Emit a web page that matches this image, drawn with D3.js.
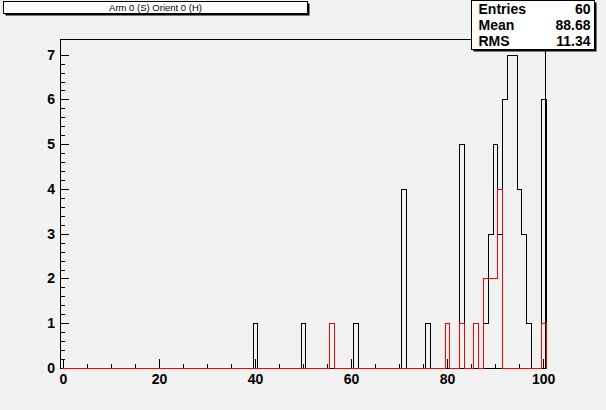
<!DOCTYPE html>
<html>
<head>
<meta charset="utf-8">
<script src="https://cdn.jsdelivr.net/npm/d3@7"></script>
<style>
  html, body { margin: 0; padding: 0; background: #f2f2f2; }
  svg { display: block; }
  text { font-family: "Liberation Sans", Arial, Helvetica, sans-serif; }
</style>
</head>
<body>
<svg id="chart" width="606" height="410"></svg>
<script>
// ---- data (bin centre -> count), 101 bins of width 1 centred on 0..100 ----
const titleText = "Arm 0 (S) Orient 0 (H)";
const blackBins   = [40, 50, 61, 71, 76, 83, 88, 89, 90, 91, 92, 93, 94, 95, 96, 97, 100];
const blackCounts = [ 1,  1,  1,  4,  1,  5,  1,  3,  5,  3,  6,  7,  7,  4,  3,  1,   6];
const redBins     = [56, 80, 83, 86, 88, 89, 90, 91, 100];
const redCounts   = [ 1,  1,  1,  1,  2,  2,  2,  4,   1];
const xMajorTicks = [0, 20, 40, 60, 80, 100];
const xMinorTicks = [0, 5, 10, 15, 20, 25, 30, 35, 40, 45, 50, 55, 60, 65, 70, 75, 80, 85, 90, 95, 100];
const yMajorTicks = [0, 1, 2, 3, 4, 5, 6, 7];
const statsLabels = ["Entries", "Mean", "RMS"];
const statsValues = ["60", "88.68", "11.34"];
const nBins = 101, xLow = -0.5, xHigh = 100.5, yMax = 7.35;

// ---- layout ----
const svg = d3.select("#chart");
const frame = { left: 60.5, right: 545.5, top: 39, bottom: 368 };
const x = d3.scaleLinear().domain([xLow, xHigh]).range([frame.left, frame.right]);
const y = d3.scaleLinear().domain([0, yMax]).range([frame.bottom, frame.top]);

svg.append("rect").attr("width", 606).attr("height", 410).attr("fill", "#f2f2f2");

// frame
svg.append("rect")
  .attr("x", frame.left).attr("y", frame.top + 0.5)
  .attr("width", frame.right - frame.left).attr("height", frame.bottom - frame.top)
  .attr("fill", "none").attr("stroke", "#000").attr("stroke-width", 1);

// histogram path helper
function fullBins(bins, counts) {
  const arr = new Array(nBins).fill(0);
  bins.forEach((b, i) => { arr[b] = counts[i]; });
  return arr;
}
function histPoints(vals) {
  const pts = vals.map((v, i) => [xLow + i, v]);
  pts.push([xHigh, vals[vals.length - 1]]);
  pts.push([xHigh, 0]);
  return pts;
}
const line = d3.line()
  .x(d => Math.round(x(d[0])) + 0.5)
  .y(d => Math.round(y(d[1])) + 0.5)
  .curve(d3.curveStepAfter);

// axes (ticks inside the frame, ROOT style)
const gx = svg.append("g").attr("transform", `translate(0,${frame.bottom + 0.5})`);
gx.call(d3.axisBottom(x).tickValues(xMinorTicks).tickSize(-4.5).tickFormat(""));
gx.call(g => g.select(".domain").remove());
const gx2 = svg.append("g").attr("transform", `translate(0,${frame.bottom + 0.5})`);
gx2.call(d3.axisBottom(x).tickValues(xMajorTicks).tickSize(-10).tickPadding(6).tickFormat(d3.format("d")));
gx2.call(g => g.select(".domain").remove());
gx2.selectAll("text").attr("font-size", 14).attr("font-weight", "bold").attr("fill", "#000");

const yMinor = d3.range(0, 36).map(i => i / 5);
const gy = svg.append("g").attr("transform", `translate(${frame.left},0)`);
gy.call(d3.axisLeft(y).tickValues(yMinor).tickSize(-4.5).tickFormat(""));
gy.call(g => g.select(".domain").remove());
const gy2 = svg.append("g").attr("transform", `translate(${frame.left},0)`);
gy2.call(d3.axisLeft(y).tickValues(yMajorTicks).tickSize(-8.5).tickPadding(5.5).tickFormat(d3.format("d")));
gy2.call(g => g.select(".domain").remove());
gy2.selectAll("text").attr("font-size", 14).attr("font-weight", "bold").attr("fill", "#000");
svg.selectAll(".tick line").attr("stroke", "#000").attr("shape-rendering", "crispEdges");

// histograms: black first, red on top
svg.append("path")
  .attr("d", line(histPoints(fullBins(blackBins, blackCounts))))
  .attr("fill", "none").attr("stroke", "#000").attr("stroke-width", 1)
  .attr("shape-rendering", "crispEdges");
svg.append("path")
  .attr("d", line(histPoints(fullBins(redBins, redCounts))))
  .attr("fill", "none").attr("stroke", "#ff0000").attr("stroke-width", 1)
  .attr("shape-rendering", "crispEdges");

// title box
const tb = { x: 3.5, y: 1.5, w: 304, h: 12 };
svg.append("rect").attr("x", tb.x + 2).attr("y", tb.y + 2).attr("width", tb.w).attr("height", tb.h).attr("fill", "#000");
svg.append("rect").attr("x", tb.x).attr("y", tb.y).attr("width", tb.w).attr("height", tb.h)
  .attr("fill", "#fff").attr("stroke", "#000").attr("stroke-width", 1);
svg.append("text").attr("x", tb.x + tb.w / 2).attr("y", tb.y + tb.h / 2 + 3.5)
  .attr("text-anchor", "middle").attr("font-size", 9.5).attr("fill", "#000").text(titleText);

// stats box
const sb = { x: 471.5, y: 0.5, w: 123, h: 49 };
svg.append("rect").attr("x", sb.x + 2).attr("y", sb.y + 2).attr("width", sb.w).attr("height", sb.h).attr("fill", "#000");
svg.append("rect").attr("x", sb.x).attr("y", sb.y).attr("width", sb.w).attr("height", sb.h)
  .attr("fill", "#fff").attr("stroke", "#000").attr("stroke-width", 1);
const rowH = sb.h / statsLabels.length;
statsLabels.forEach((lab, i) => {
  const by = sb.y + rowH * i + rowH / 2 + 5;
  svg.append("text").attr("x", sb.x + 7).attr("y", by)
    .attr("font-size", 14).attr("font-weight", "bold").attr("fill", "#000").text(lab);
  svg.append("text").attr("x", sb.x + sb.w - 4).attr("y", by).attr("text-anchor", "end")
    .attr("font-size", 14).attr("font-weight", "bold").attr("fill", "#000").text(statsValues[i]);
});
</script>
</body>
</html>
